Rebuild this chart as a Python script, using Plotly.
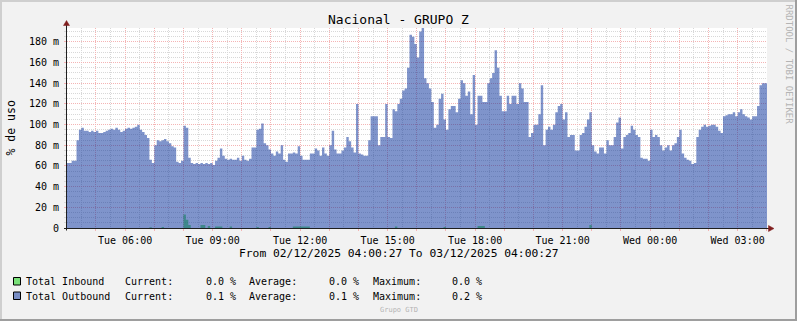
import pandas as pd
import plotly.graph_objects as go

# ---------------- data (values in milli-percent, "m"), 5-minute samples ----------------
start_time = "2025-12-02 04:00:00"
range_start = "2025-12-02 04:00:27"
range_end = "2025-12-03 04:00:27"

outbound_m = [
    63, 63, 65, 65, 85, 95, 97, 94, 94, 93, 94, 93, 94, 92, 92, 93, 94, 95, 96, 95,
    97, 95, 93, 94, 96, 97, 96, 97, 98, 100, 95, 93, 90, 87, 66, 63, 80, 85, 84, 85,
    86, 84, 82, 79, 78, 64, 63, 65, 99, 97, 68, 63, 62, 63, 62, 63, 62, 63, 62, 63,
    61, 65, 68, 77, 70, 67, 66, 67, 66, 66, 68, 65, 70, 66, 65, 67, 78, 78, 95, 96,
    101, 82, 80, 76, 72, 70, 74, 72, 80, 66, 64, 72, 72, 73, 72, 79, 70, 66, 66, 66,
    72, 72, 77, 75, 70, 78, 72, 70, 80, 94, 76, 72, 72, 75, 78, 88, 84, 78, 73, 120,
    72, 71, 70, 70, 85, 108, 108, 108, 80, 88, 88, 120, 88, 87, 115, 113, 120, 125, 133, 135,
    155, 187, 185, 178, 165, 190, 195, 145, 140, 135, 122, 97, 100, 125, 130, 105, 95, 115, 118, 118,
    112, 125, 143, 140, 128, 132, 110, 148, 100, 128, 128, 122, 122, 140, 145, 150, 172, 155, 128, 113,
    113, 128, 120, 128, 128, 120, 140, 135, 122, 122, 88, 92, 100, 100, 110, 138, 80, 95, 98, 95,
    100, 112, 118, 120, 105, 112, 88, 90, 90, 75, 75, 90, 92, 98, 105, 112, 80, 74, 72, 78,
    78, 72, 85, 80, 80, 88, 102, 107, 77, 88, 90, 92, 99, 95, 90, 88, 68, 67, 67, 65,
    95, 88, 90, 88, 80, 75, 78, 80, 75, 80, 82, 88, 95, 72, 68, 66, 65, 62, 63, 88,
    95, 98, 100, 98, 99, 100, 100, 98, 94, 92, 108, 109, 110, 110, 112, 108, 112, 115, 110, 108,
    107, 105, 108, 108, 118, 138, 140, 140,
]

inbound_m = [
    0, 0, 0, 0, 0, 0, 0, 0, 0, 0, 0, 0, 0, 0, 0, 0, 0, 0, 0, 0,
    0, 0, 0, 0, 0, 0, 0, 0, 0, 0, 0, 0, 0, 0, 0.8, 0, 0, 0, 0, 1,
    0, 0, 0, 0, 0, 0, 0, 0, 13, 8, 3, 0, 0, 0, 0, 3, 3, 0, 2, 0,
    0, 1.5, 1.5, 1.5, 0, 0, 0, 1.5, 0, 0, 0, 0, 0, 0, 0, 0, 0, 0, 1, 0,
    0, 0, 0, 1, 0, 0, 0, 0, 0, 0, 0, 0, 0, 1.5, 1.5, 1.5, 1.5, 1.5, 1.5, 1.5,
    0, 0, 0, 0, 0, 0, 0, 0, 0, 0, 0, 0, 0, 0, 0, 0, 0, 0, 0, 0,
    0, 0, 0, 0, 0, 0, 0, 0, 0, 0, 0, 0, 0, 0, 0, 1.5, 0, 0, 0, 0,
    0, 0, 0, 0, 0, 0, 0, 0, 0, 0, 0, 0, 0, 0, 0, 1, 0, 0, 0, 0,
    0, 0, 0, 0, 0, 0, 0, 0, 0, 2, 2, 2, 0, 0, 0, 0, 0, 0, 0, 0,
    0, 0, 0, 0, 0, 0, 0, 0, 0, 0, 0, 0, 0, 0, 0, 0, 0, 0, 0, 0,
    0, 0, 0, 0, 0, 0, 0, 0, 0, 0, 0, 0, 0, 0, 0, 3, 0, 0, 0, 0,
    0, 0, 0, 0, 0, 0, 0, 0, 0, 0, 0, 0, 0, 0, 0, 0, 0, 0, 0, 0,
    0, 0, 0, 0, 0, 0, 0, 0, 0, 0, 0, 0, 0, 0, 0, 0, 0, 0, 0, 0,
    0, 0, 0, 0, 0, 0, 0, 0, 0, 0, 0, 0, 0, 0, 0, 0, 0, 0, 0, 0,
    0, 0, 0, 0, 0, 0, 0, 0,
]

y_tick_values = [0, 20, 40, 60, 80, 100, 120, 140, 160, 180]
y_tick_labels = ["0"] + [f"{v} m" for v in y_tick_values[1:]]

legend_names = ["Total Inbound", "Total Outbound"]
legend_current = ["0.0 %", "0.1 %"]
legend_average = ["0.0 %", "0.1 %"]
legend_maximum = ["0.0 %", "0.2 %"]

title_text = "Nacional - GRUPO Z"
y_title = "% de uso"
period_text = "From 02/12/2025 04:00:27 To 03/12/2025 04:00:27"

# ---------------- styling ----------------
W, H = 797, 321
L, R, T, B = 67, 30, 28, 93
PW, PH = W - L - R, H - T - B
MONO = "DejaVu Sans Mono"

BACK = "#F2F2F2"
SHADEA = "#CFCFCF"
SHADEB = "#9E9E9E"
GRID = "#D8D8D8"
MGRID = "#F4B4B4"
AXIS = "#1F1F1F"
ARROW = "#801F1F"
IN_COL = "rgba(0,207,0,0.5)"
OUT_COL = "rgba(0,42,151,0.5)"


def px(x):
    return (x - L) / PW


def py(y):
    return (H - B - y) / PH


times = list(pd.date_range(start_time, periods=len(outbound_m), freq="5min"))
x_vals = times + [pd.Timestamp(range_end)]
out_vals = outbound_m + [outbound_m[-1]]
in_vals = inbound_m + [inbound_m[-1]]

fig = go.Figure()
fig.add_trace(go.Scatter(x=x_vals, y=in_vals, mode="lines", line=dict(width=0, shape="hv"),
                         fill="tozeroy", fillcolor=IN_COL, hoverinfo="skip", showlegend=False))
fig.add_trace(go.Scatter(x=x_vals, y=out_vals, mode="lines", line=dict(width=0, shape="hv"),
                         fill="tozeroy", fillcolor=OUT_COL, hoverinfo="skip", showlegend=False))

hour_ticks = list(pd.date_range("2025-12-02 05:00:00", "2025-12-03 04:00:00", freq="1h"))
hour_text = [t.strftime("%a %H:%M") if t.hour % 3 == 0 else "" for t in hour_ticks]

fig.update_xaxes(
    type="date", range=[range_start, range_end], tickmode="array",
    tickvals=hour_ticks, ticktext=hour_text,
    showgrid=True, gridcolor=MGRID, griddash="1px,1px", gridwidth=1,
    ticks="outside", ticklen=2, tickcolor=MGRID,
    tickfont=dict(family=MONO, size=10, color="#000000"),
    showline=False, zeroline=False, ticklabelstandoff=1,
    minor=dict(dtick=1800000, tick0="2025-12-02 04:00:00", showgrid=True,
               gridcolor=GRID, griddash="1px,1px", gridwidth=1),
)
fig.update_yaxes(
    range=[0, 193.5], tickmode="array", tickvals=y_tick_values, ticktext=y_tick_labels,
    showgrid=True, gridcolor=MGRID, griddash="1px,1px", gridwidth=1,
    ticks="outside", ticklen=2, tickcolor=MGRID,
    tickfont=dict(family=MONO, size=10, color="#000000"),
    showline=False, zeroline=False, ticklabelstandoff=3,
    minor=dict(dtick=5, tick0=0, showgrid=True, gridcolor=GRID, griddash="1px,1px",
               gridwidth=1, ticks="outside", ticklen=2, tickcolor=GRID),
)

shapes = []
# 3D frame
shapes.append(dict(type="rect", xref="paper", yref="paper", x0=px(0), x1=px(W), y0=py(0), y1=py(2),
                   fillcolor=SHADEA, line=dict(width=0), layer="above"))
shapes.append(dict(type="rect", xref="paper", yref="paper", x0=px(0), x1=px(2), y0=py(0), y1=py(H),
                   fillcolor=SHADEA, line=dict(width=0), layer="above"))
shapes.append(dict(type="rect", xref="paper", yref="paper", x0=px(0), x1=px(W), y0=py(H - 2), y1=py(H),
                   fillcolor=SHADEB, line=dict(width=0), layer="above"))
shapes.append(dict(type="rect", xref="paper", yref="paper", x0=px(W - 2), x1=px(W), y0=py(0), y1=py(H),
                   fillcolor=SHADEB, line=dict(width=0), layer="above"))
# axes
shapes.append(dict(type="line", xref="paper", yref="paper", x0=px(66.5), x1=px(66.5), y0=py(230.5), y1=py(25),
                   line=dict(color=AXIS, width=1), layer="above"))
shapes.append(dict(type="line", xref="paper", yref="paper", x0=px(64), x1=px(769), y0=py(228.5), y1=py(228.5),
                   line=dict(color=AXIS, width=1), layer="above"))
# arrows
shapes.append(dict(type="path", xref="paper", yref="paper",
                   path=f"M {px(63.5)},{py(25.5)} L {px(69.5)},{py(25.5)} L {px(66.5)},{py(20.5)} Z",
                   fillcolor=ARROW, line=dict(color=ARROW, width=0.5), layer="above"))
shapes.append(dict(type="path", xref="paper", yref="paper",
                   path=f"M {px(768.5)},{py(225.5)} L {px(768.5)},{py(231.5)} L {px(774)},{py(228.5)} Z",
                   fillcolor=ARROW, line=dict(color=ARROW, width=0.5), layer="above"))
# legend boxes
for i, col in enumerate([IN_COL, OUT_COL]):
    y0 = 277.5 + i * 14.5
    shapes.append(dict(type="rect", xref="paper", yref="paper", x0=px(13.5), x1=px(20.5),
                       y0=py(y0), y1=py(y0 + 7.5), fillcolor=col,
                       line=dict(color="#000000", width=1), layer="above"))

annotations = []


def txt(text, x, y, size, xanchor="left", color="#000000", angle=0, family=MONO):
    annotations.append(dict(text=text, x=px(x), y=py(y), xref="paper", yref="paper",
                            xanchor=xanchor, yanchor="middle", showarrow=False,
                            textangle=angle, borderpad=0, borderwidth=0,
                            font=dict(family=family, size=size, color=color)))


txt(title_text, 398.5, 19, 13, xanchor="center")
txt(y_title, 10, 128.5, 11.5, xanchor="center", angle=-90)
txt(period_text, 398.5, 253.3, 11.3, xanchor="center")
for i in range(2):
    yy = 281.7 + i * 14.4
    txt(legend_names[i], 26, yy, 10)
    txt("Current:", 125.3, yy, 10)
    txt(legend_current[i], 235.5, yy, 10, xanchor="right")
    txt("Average:", 249.3, yy, 10)
    txt(legend_average[i], 358.5, yy, 10, xanchor="right")
    txt("Maximum:", 372.7, yy, 10)
    txt(legend_maximum[i], 482.5, yy, 10, xanchor="right")
txt("Grupo GTD", 398.5, 310, 7, xanchor="center", color="#B4B4B4")
txt("RRDTOOL / TOBI OETIKER", 788.5, 64, 9, xanchor="center", color="#B4B4B4", angle=90)

fig.update_layout(
    width=W, height=H, margin=dict(l=L, r=R, t=T, b=B, pad=0),
    paper_bgcolor=BACK, plot_bgcolor="#FFFFFF",
    showlegend=False, shapes=shapes, annotations=annotations,
    hovermode=False,
)

fig.write_html("out.html", config={"displayModeBar": False})
